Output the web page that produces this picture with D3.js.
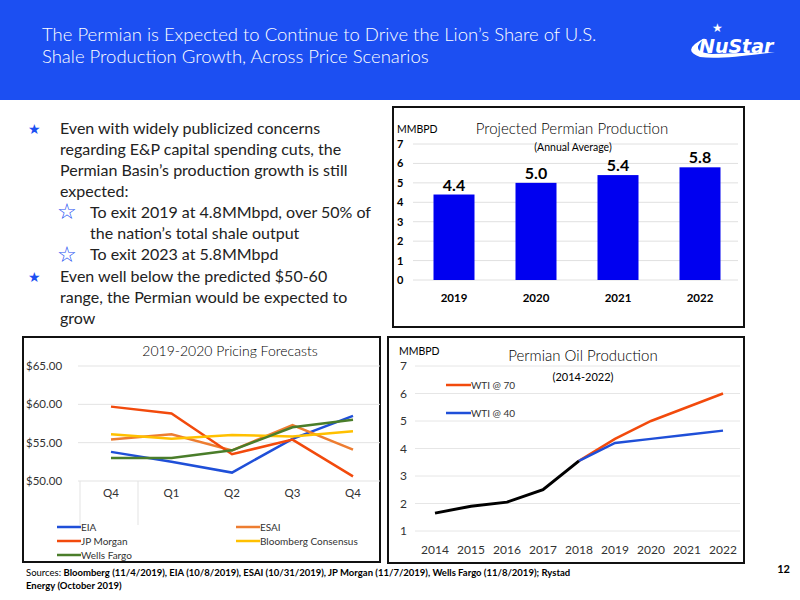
<!DOCTYPE html>
<html><head><meta charset="utf-8">
<script src="https://cdn.jsdelivr.net/npm/d3@7"></script>
<style>body{margin:0;background:#fff}svg{display:block;font-family:Lato,"Liberation Sans",sans-serif}</style>
</head><body><svg id="s" width="800" height="600"></svg>
<script>
// ---- data ----
const barYears = ["2019","2020","2021","2022"];
const barValues = [4.4, 5.0, 5.4, 5.8];
const barTicks = [0,1,2,3,4,5,6,7];

const quarters = ["Q4","Q1","Q2","Q3","Q4 "];
const priceTicks = [50,55,60,65];
const eia = [53.8, 52.5, 51.1, 55.5, 58.5];
const esai = [55.4, 56.1, 54.0, 57.3, 54.1];
const jpMorgan = [59.7, 58.8, 53.5, 55.4, 50.6];
const bloomberg = [56.1, 55.5, 56.0, 55.8, 56.5];
const wellsFargo = [53.0, 53.0, 54.0, 57.0, 58.0];

const prodYears = ["2014","2015","2016","2017","2018","2019","2020","2021","2022"];
const prodTicks = [1,2,3,4,5,6,7];
const history = [1.65, 1.9, 2.05, 2.5, 3.55];
const wti70 = [3.55, 4.35, 5.0, 5.5, 6.0];
const wti40 = [3.55, 4.2, 4.35, 4.5, 4.65];

const svg = d3.select("#s");
// header
svg.append("rect").attr("x",0).attr("y",0).attr("width",800).attr("height",100).attr("fill","#1c4ff2");
svg.append("text").attr("x",42).attr("y",41).attr("fill","#fff").attr("font-size",18.5).attr("font-weight",300)
  .text("The Permian is Expected to Continue to Drive the Lion’s Share of U.S.");
svg.append("text").attr("x",42).attr("y",63).attr("fill","#fff").attr("font-size",18.5).attr("font-weight",300)
  .text("Shale Production Growth, Across Price Scenarios");
// logo
const lg = svg.append("g");
lg.append("path").attr("d","M700,57 Q680,50 705,38 Q688,52 712,54 L775,52 Q720,60 700,57Z").attr("fill","#fff");
lg.append("text").attr("x",699).attr("y",53).attr("fill","#fff").attr("font-size",19).attr("font-weight",900)
  .attr("font-style","italic").attr("font-family","'DejaVu Sans'").text("NuStar");
lg.append("text").attr("x",712).attr("y",32).attr("fill","#fff").attr("font-size",12).text("★");

// bullets
const bl = [
 {t:"★",x:28,y:134,c:"#1c4ff2",s:14},
 {t:"Even with widely publicized concerns",x:60,y:134},
 {t:"regarding E&P capital spending cuts, the",x:60,y:155},
 {t:"Permian Basin’s production growth is still",x:60,y:176},
 {t:"expected:",x:60,y:197},
 {t:"☆",x:57,y:219,c:"#1c4ff2",s:22},
 {t:"To exit 2019 at 4.8MMbpd, over 50% of",x:90,y:218},
 {t:"the nation’s total shale output",x:90,y:239},
 {t:"☆",x:57,y:262,c:"#1c4ff2",s:22},
 {t:"To exit 2023 at 5.8MMbpd",x:90,y:260},
 {t:"★",x:28,y:282,c:"#1c4ff2",s:14},
 {t:"Even well below the predicted $50-60",x:60,y:282},
 {t:"range, the Permian would be expected to",x:60,y:303},
 {t:"grow",x:60,y:324}];
bl.forEach(b=>svg.append("text").attr("x",b.x).attr("y",b.y).attr("font-size",b.s||16)
  .attr("fill",b.c||"#222").attr("font-family",b.c?"'DejaVu Sans'":null).text(b.t));

function box(x,y,w,h){svg.append("rect").attr("x",x).attr("y",y).attr("width",w).attr("height",h)
  .attr("fill","#fff").attr("stroke","#111").attr("stroke-width",2);}

// ---- bar chart ----
box(393,107,351,220);
{
 const x = d3.scaleBand().domain(barYears).range([413,741]).paddingInner(0.5).paddingOuter(0.25);
 const y = d3.scaleLinear().domain([0,7]).range([280,144]);
 const g = svg.append("g");
 g.selectAll("line.g").data(barTicks).join("line").attr("x1",413).attr("x2",738)
  .attr("y1",d=>y(d)).attr("y2",d=>y(d)).attr("stroke","#e0e0e0");
 g.selectAll("text.t").data(barTicks).join("text").attr("x",397).attr("y",d=>y(d)+4)
  .attr("font-size",11).attr("font-weight",700).text(d=>d);
 g.selectAll("rect.b").data(barValues).join("rect").attr("x",(d,i)=>x(barYears[i])).attr("width",x.bandwidth())
  .attr("y",d=>y(d)).attr("height",d=>y(0)-y(d)).attr("fill","#0000f0");
 g.selectAll("text.v").data(barValues).join("text").attr("x",(d,i)=>x(barYears[i])+x.bandwidth()/2)
  .attr("y",d=>y(d)-4).attr("text-anchor","middle").attr("font-size",16).attr("font-weight",700).text(d=>d.toFixed(1));
 g.selectAll("text.c").data(barYears).join("text").attr("x",d=>x(d)+x.bandwidth()/2).attr("y",302)
  .attr("text-anchor","middle").attr("font-size",11.5).attr("font-weight",700).text(d=>d);
 g.append("text").attr("x",397).attr("y",133).attr("font-size",10.5).text("MMBPD");
 g.append("text").attr("x",572).attr("y",134).attr("text-anchor","middle").attr("font-size",15).attr("font-weight",300).text("Projected Permian Production");
 g.append("text").attr("x",573).attr("y",151).attr("text-anchor","middle").attr("font-size",10.5).text("(Annual Average)");
}

// ---- pricing chart ----
box(23,337,357,225);
{
 const x = d3.scalePoint().domain(quarters).range([111,353]);
 const y = d3.scaleLinear().domain([50,65]).range([481,366]);
 const g = svg.append("g");
 g.selectAll("line.g").data(priceTicks).join("line").attr("x1",78).attr("x2",380)
  .attr("y1",d=>y(d)).attr("y2",d=>y(d)).attr("stroke","#e3e3e3");
 g.append("line").attr("x1",138).attr("x2",138).attr("y1",481).attr("y2",525).attr("stroke","#e3e3e3");
 g.append("line").attr("x1",80).attr("x2",80).attr("y1",481).attr("y2",525).attr("stroke","#e3e3e3");
 g.selectAll("text.t").data(priceTicks).join("text").attr("x",26).attr("y",d=>y(d)+4)
  .attr("font-size",11.5).attr("fill","#333").text(d=>"$"+d.toFixed(2));
 g.selectAll("text.c").data(quarters).join("text").attr("x",d=>x(d)).attr("y",497)
  .attr("text-anchor","middle").attr("font-size",11.5).attr("fill","#333").text(d=>d.trim());
 const series=[["EIA",eia,"#1f4fd8"],["ESAI",esai,"#ed7d31"],["JP Morgan",jpMorgan,"#f24a0c"],
   ["Bloomberg Consensus",bloomberg,"#ffc000"],["Wells Fargo",wellsFargo,"#4a7d2a"]];
 const line=d3.line().x((d,i)=>x(quarters[i])).y(d=>y(d));
 series.forEach(s=>g.append("path").attr("d",line(s[1])).attr("fill","none").attr("stroke",s[2]).attr("stroke-width",2.5));
 const lpos=[[57,527],[236,527],[57,541],[236,541],[57,555]];
 series.forEach((s,i)=>{const[lx,ly]=lpos[i];
  g.append("line").attr("x1",lx).attr("x2",lx+24).attr("y1",ly).attr("y2",ly).attr("stroke",s[2]).attr("stroke-width",2.5);
  g.append("text").attr("x",lx+24).attr("y",ly+4).attr("font-size",10).attr("fill","#333").text(s[0]);});
 g.append("text").attr("x",230).attr("y",356).attr("text-anchor","middle").attr("font-size",14).attr("font-weight",300).text("2019-2020 Pricing Forecasts");
}

// ---- production chart ----
box(388,337,356,226);
{
 const x = d3.scalePoint().domain(prodYears).range([435,723]);
 const y = d3.scaleLinear().domain([1,7]).range([531,366]);
 const g = svg.append("g");
 g.selectAll("line.g").data(prodTicks).join("line").attr("x1",415).attr("x2",740)
  .attr("y1",d=>y(d)).attr("y2",d=>y(d)).attr("stroke","#e6e6e6");
 g.selectAll("text.t").data(prodTicks).join("text").attr("x",400).attr("y",d=>y(d)+4)
  .attr("font-size",12).attr("fill","#333").text(d=>d);
 g.selectAll("text.c").data(prodYears).join("text").attr("x",d=>x(d)).attr("y",554)
  .attr("text-anchor","middle").attr("font-size",12).attr("fill","#333").text(d=>d);
 const line=(arr,off)=>d3.line().x((d,i)=>x(prodYears[i+off])).y(d=>y(d))(arr);
 g.append("path").attr("d",line(wti70,4)).attr("fill","none").attr("stroke","#f24a0c").attr("stroke-width",2.5);
 g.append("path").attr("d",line(wti40,4)).attr("fill","none").attr("stroke","#1f4fd8").attr("stroke-width",2.5);
 g.append("path").attr("d",line(history,0)).attr("fill","none").attr("stroke","#000").attr("stroke-width",3);
 [["WTI @ 70","#f24a0c",385],["WTI @ 40","#1f4fd8",413]].forEach(l=>{
  g.append("line").attr("x1",446).attr("x2",471).attr("y1",l[2]).attr("y2",l[2]).attr("stroke",l[1]).attr("stroke-width",2.5);
  g.append("text").attr("x",471).attr("y",l[2]+4).attr("font-size",10).attr("fill","#333").text(l[0]);});
 g.append("text").attr("x",399).attr("y",355).attr("font-size",10.5).text("MMBPD");
 g.append("text").attr("x",583).attr("y",361).attr("text-anchor","middle").attr("font-size",15).attr("font-weight",300).text("Permian Oil Production");
 g.append("text").attr("x",583).attr("y",381).attr("text-anchor","middle").attr("font-size",11).text("(2014-2022)");
}

// footer
const f1=svg.append("text").attr("x",26).attr("y",576).attr("font-size",9.5);
f1.append("tspan").text("Sources: ");
f1.append("tspan").attr("font-weight",700).text("Bloomberg (11/4/2019), EIA (10/8/2019),  ESAI (10/31/2019), JP Morgan (11/7/2019), Wells Fargo (11/8/2019); Rystad");
svg.append("text").attr("x",26).attr("y",589).attr("font-size",9.5).attr("font-weight",700).text("Energy (October 2019)");
svg.append("text").attr("x",790).attr("y",573).attr("text-anchor","end").attr("font-size",11).attr("font-weight",700).text("12");
</script></body></html>
